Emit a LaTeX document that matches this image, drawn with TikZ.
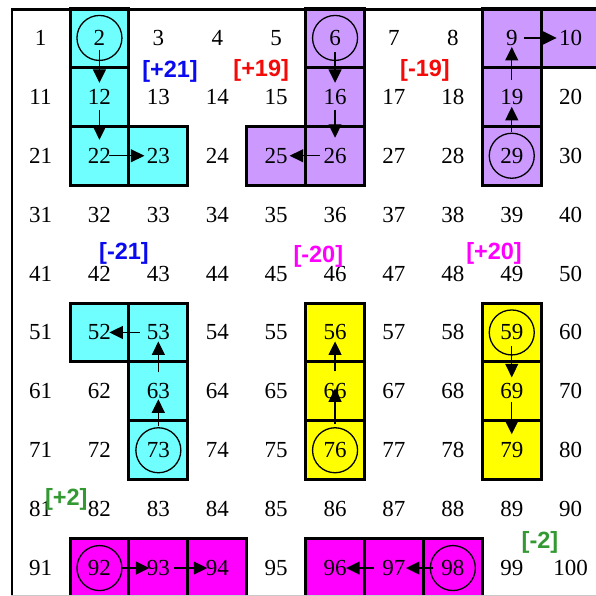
\documentclass[tikz,border=0pt]{standalone}
\usepackage{fontspec}
\setmainfont{Liberation Serif}
\newfontfamily\labfont{Liberation Sans}
\usetikzlibrary{arrows.meta}
\definecolor{cyc}{RGB}{112,255,255}
\definecolor{puc}{RGB}{204,153,255}
\definecolor{yec}{RGB}{255,255,0}
\definecolor{mac}{RGB}{255,0,255}
\definecolor{blc}{RGB}{10,10,240}
\definecolor{rdc}{RGB}{245,10,10}
\definecolor{grc}{RGB}{51,153,51}
\definecolor{lgc}{RGB}{200,200,200}
\begin{document}
\begin{tikzpicture}[x=58.9pt,y=-58.9pt,
  num/.style={inner sep=0pt, font=\fontsize{23}{23}\selectfont},
  circ/.style={draw, circle, minimum size=45pt, inner sep=0pt, line width=1.3pt},
  cellline/.style={line width=3pt, line join=miter},
  arr/.style={line width=1.2pt, -{Triangle[length=13.5pt,width=13pt]}},
  lab/.style={font=\labfont\bfseries\fontsize{23.5}{23.5}\selectfont, inner sep=0pt}]
\useasboundingbox (-0.18846,-0.14431) rectangle (9.9304,9.9745);
\clip (-0.18846,-0.14431) rectangle (9.9304,9.9745);
% coloured cells
\foreach \c/\r/\cl in {2/1/cyc,2/2/cyc,2/3/cyc,3/3/cyc,
                       2/6/cyc,3/6/cyc,3/7/cyc,3/8/cyc,
                       6/1/puc,6/2/puc,6/3/puc,5/3/puc,
                       9/1/puc,10/1/puc,9/2/puc,9/3/puc,
                       6/6/yec,6/7/yec,6/8/yec,
                       9/6/yec,9/7/yec,9/8/yec,
                       2/10/mac,3/10/mac,4/10/mac,
                       6/10/mac,7/10/mac,8/10/mac}
  \fill[\cl] (\c-1,\r-1) rectangle (\c,\r);
\foreach \c/\r in {2/1,2/2,2/3,3/3,2/6,3/6,3/7,3/8,
                   6/1,6/2,6/3,5/3,9/1,10/1,9/2,9/3,
                   6/6,6/7,6/8,9/6,9/7,9/8,
                   2/10,3/10,4/10,6/10,7/10,8/10}
  \draw[cellline] (\c-1,\r-1) rectangle (\c,\r);
% frame
\draw[line width=2.5pt] (0.015,10.2) -- (0.015,0.017) -- (10.2,0.017);
\draw[lgc, line width=1pt] (0,9.958) -- (10.2,9.958);
% numbers
\foreach \r in {1,...,10}
  \foreach \c in {1,...,10} {
    \pgfmathtruncatemacro\k{(\r-1)*10+\c}
    \node[num] (n\k) at (\c-0.5,\r-0.5) {\k};
  }
% circles
\foreach \k in {2,6,29,73,59,76,92,98}
  \node[circ] (c\k) at (n\k) {};
% arrows
\foreach \a/\b/\s/\t in {2/12/12/14, 12/22/13/16, 22/23/10/14,
                         6/16/14/14, 16/26/13/18, 26/25/15.5/13.5,
                         29/19/24/10, 19/9/17/9, 9/10/12.5/14,
                         73/63/24/8, 63/53/19/9, 53/52/18.5/10,
                         59/69/14/14, 69/79/11/16,
                         76/66/26/-3, 66/56/20/9,
                         92/93/22/9, 93/94/16/10,
                         98/97/19.5/12, 97/96/20/11}
  \draw[arr, shorten <=\s pt, shorten >=\t pt] (n\a.center) -- (n\b.center);
% labels
\node[lab, text=blc] (l1) at (2.698,1.061) {[+21]};
\node[lab, text=rdc] (l2) at (4.246,1.053) {[+19]};
\node[lab, text=rdc] (l3) at (7.027,1.053) {[-19]};
\node[lab, text=blc] (l4) at (1.917,4.165) {[-21]};
\node[lab, text=mac] (l5) at (5.216,4.202) {[-20]};
\node[lab, text=mac] (l6) at (8.199,4.165) {[+20]};
\node[lab, text=grc] (l7) at (0.937,8.328) {[+2]};
\node[lab, text=grc] (l8) at (8.979,9.066) {[-2]};
\end{tikzpicture}
\end{document}
